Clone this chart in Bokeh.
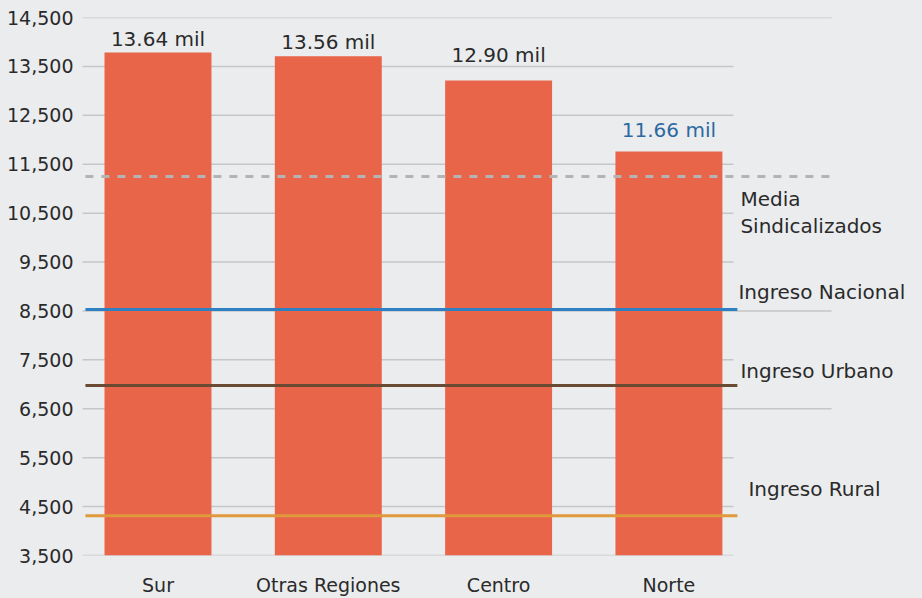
from bokeh.plotting import figure
from bokeh.models import ColumnDataSource, Range1d, FixedTicker, NumeralTickFormatter
from bokeh.core.properties import value
from bokeh.embed import file_html
from bokeh.resources import INLINE

# ---------------- data ----------------
regions = ["Sur", "Otras Regiones", "Centro", "Norte"]
income = [13785, 13710, 13210, 11760]
bar_labels = ["13.64 mil", "13.56 mil", "12.90 mil", "11.66 mil"]

ref_names = ["Media Sindicalizados", "Ingreso Nacional", "Ingreso Urbano", "Ingreso Rural"]
ref_values = [11250, 8530, 6975, 4315]

y_ticks = [3500, 4500, 5500, 6500, 7500, 8500, 9500, 10500, 11500, 12500, 13500, 14500]
long_grid = [14500, 8500, 6500]

# ---------------- style ----------------
FONT = "DejaVu Sans"
BG = "#ebecee"
BAR_COLOR = "#e8654a"
TEXT = "#2a2a2a"
bar_label_colors = [TEXT, TEXT, TEXT, "#2b6aa0"]
bar_label_offsets = [-13, -14, -26, -22]
ref_colors = ["#b4b4b4", "#2f80c2", "#6b4a33", "#e0993b"]
ref_widths = [3, 3, 3, 3]
ref_dashes = ["8 8", "solid", "solid", "solid"]
ref_end = [3.966, 3.402, 3.402, 3.402]
LINE_START = -0.426
GRID_START = -0.443
GRID_END = 3.379
GRID_END_LONG = 3.955

p = figure(width=922, height=598, output_backend="svg", toolbar_location=None,
           x_range=Range1d(-0.455, 4.489), y_range=Range1d(3500, 14500),
           min_border_left=80, min_border_right=0, min_border_top=17, min_border_bottom=43)
p.background_fill_color = BG
p.border_fill_color = BG
p.outline_line_color = None
p.xgrid.visible = False
p.ygrid.visible = False

# grid lines
gx1 = [GRID_END_LONG if t in long_grid else GRID_END for t in y_ticks]
p.segment(x0=[GRID_START] * len(y_ticks), x1=gx1, y0=y_ticks, y1=y_ticks,
          line_color="#c6c6c8", line_width=1.5)

# bars
xs = list(range(len(regions)))
src = ColumnDataSource(dict(x=xs, top=income, label=bar_labels,
                            color=bar_label_colors, off=bar_label_offsets))
p.vbar(x="x", top="top", bottom=3500, width=0.628, source=src,
       fill_color=BAR_COLOR, line_color=None)
p.text(x="x", y="top", text="label", source=src, text_align="center",
       text_baseline="alphabetic", y_offset="off", text_color="color",
       text_font=value(FONT), text_font_size="20px")

# reference lines
for v, c, w, d, e in zip(ref_values, ref_colors, ref_widths, ref_dashes, ref_end):
    p.line(x=[LINE_START, e], y=[v, v], line_color=c, line_width=w, line_dash=d)

# reference line labels
lab_text = ["Media", "Sindicalizados", ref_names[1], ref_names[2], ref_names[3]]
lab_y = [ref_values[0], ref_values[0], ref_values[1], ref_values[2], ref_values[3]]
lab_xoff = [3, 3, 1, 3, 11]
lab_yoff = [23, 50, -17, -15, -27]
lsrc = ColumnDataSource(dict(x=[ref_end[1]] * 5, y=lab_y, t=lab_text, xo=lab_xoff, yo=lab_yoff))
p.text(x="x", y="y", text="t", source=lsrc, x_offset="xo", y_offset="yo",
       text_align="left", text_baseline="alphabetic", text_color=TEXT,
       text_font=value(FONT), text_font_size="20px")

# axes
p.yaxis.ticker = FixedTicker(ticks=y_ticks)
p.yaxis.formatter = NumeralTickFormatter(format="0,0")
p.yaxis.axis_line_color = None
p.yaxis.major_tick_line_color = None
p.yaxis.minor_tick_line_color = None
p.yaxis.major_tick_out = 0
p.yaxis.major_label_standoff = 7
p.yaxis.major_label_text_font = FONT
p.yaxis.major_label_text_font_size = "19px"
p.yaxis.major_label_text_color = TEXT

p.xaxis.ticker = FixedTicker(ticks=xs)
p.xaxis.major_label_overrides = {i: r for i, r in zip(xs, regions)}
p.xaxis.axis_line_color = None
p.xaxis.major_tick_line_color = None
p.xaxis.minor_tick_line_color = None
p.xaxis.major_tick_out = 0
p.xaxis.major_label_standoff = 18
p.xaxis.major_label_text_font = FONT
p.xaxis.major_label_text_font_size = "19px"
p.xaxis.major_label_text_color = TEXT

html = file_html(p, INLINE)
html = html.replace("</head>", "<style>body{background:#ebecee;}</style></head>", 1)
open("out.html", "w").write(html)
